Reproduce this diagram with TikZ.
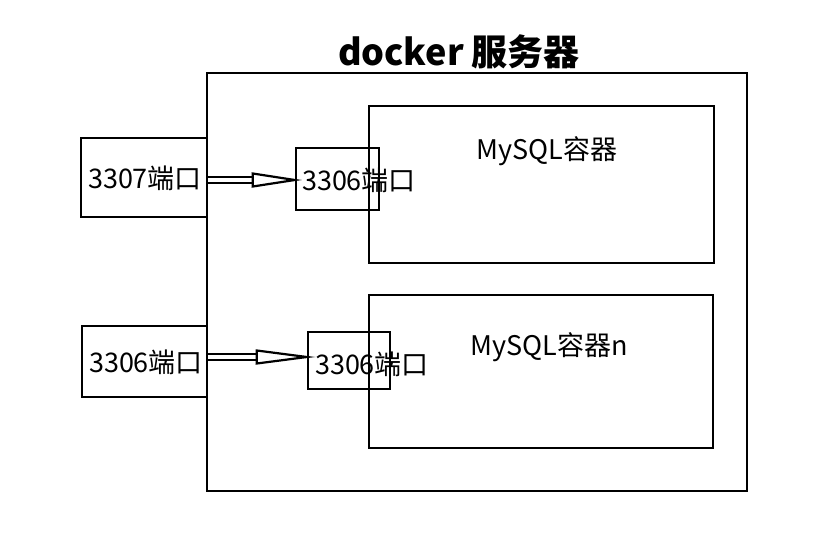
\documentclass[tikz,border=0pt]{standalone}
\usepackage{fontspec}
\setmainfont{Noto Sans CJK SC}
\usetikzlibrary{calc}
\begin{document}
\begin{tikzpicture}[x=1pt,y=-1pt,
  box/.style={draw,line width=2.4pt},
  lbl/.style={font=\fontsize{27}{29}\selectfont,inner sep=0pt},
  shaft/.style={double,double distance=3.5pt,line width=2.4pt},
  head/.style={draw,fill=white,line width=2.2pt,line join=miter}]
\useasboundingbox (0,0) rectangle (835,541);
\node[font=\fontsize{36}{38}\selectfont\bfseries,inner sep=0pt] (title) at (459,52) {docker 服务器};
\draw[box] (207,73) rectangle (747,491) coordinate (outerbr);
\coordinate (outer) at (207,73);
\draw[box] (369,106) rectangle (714,263);
\draw[box] (369,295) rectangle (713,448);
\node[lbl] (m1) at (547,151) {MySQL容器};
\node[lbl] (m2) at (549,347) {MySQL容器n};
% left ports
\node[box,minimum width=126pt,minimum height=79pt,inner sep=0pt] (p1) at (144,177.5) {};
\node[lbl] (p1t) at (145,178) {3307端口};
\node[box,minimum width=125pt,minimum height=71pt,inner sep=0pt] (p2) at (144.5,361.5) {};
\node[lbl] (p2t) at (146,362) {3306端口};
% inner ports
\node[box,minimum width=83pt,minimum height=62pt,inner sep=0pt] (i1) at (337.5,179) {};
\node[lbl] (i1t) at (359,180) {3306端口};
\node[box,minimum width=82pt,minimum height=57pt,inner sep=0pt] (i2) at (349,360.5) {};
\node[lbl] (i2t) at (372,364) {3306端口};
% arrows
\coordinate (a1s) at (p1.east |- 0,180);
\coordinate (a1e) at (i1.west |- 0,180);
\draw[shaft] (a1s) -- ($(a1e)+(-40,0)$);
\draw[head] ($(a1e)+(-42,-6.5)$) -- (a1e) -- ($(a1e)+(-42,6.5)$) -- cycle;
\coordinate (a2s) at (p2.east |- 0,357);
\coordinate (a2e) at (i2.west |- 0,357);
\draw[shaft] (a2s) -- ($(a2e)+(-48,0)$);
\draw[head] ($(a2e)+(-50,-6.5)$) -- (a2e) -- ($(a2e)+(-50,6.5)$) -- cycle;
\end{tikzpicture}
\end{document}
